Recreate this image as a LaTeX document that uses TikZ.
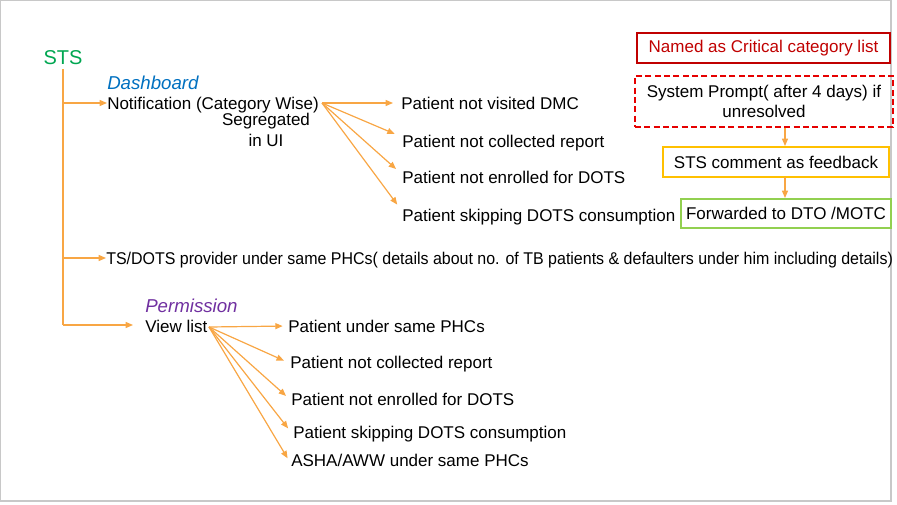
\documentclass[tikz,border=0pt]{standalone}
\usepackage{fontspec}
\usepackage{graphicx}
\setmainfont{Liberation Sans}
\usetikzlibrary{arrows.meta}
\definecolor{arr}{RGB}{248,166,68}
\definecolor{stsgreen}{RGB}{0,166,81}
\definecolor{dashblue}{RGB}{0,112,192}
\definecolor{permpurple}{RGB}{112,48,160}
\definecolor{darkred}{RGB}{192,0,0}
\definecolor{promptred}{RGB}{230,0,0}
\definecolor{fbyellow}{RGB}{255,192,0}
\definecolor{fwdgreen}{RGB}{146,208,80}
\definecolor{framegray}{RGB}{200,200,200}
\tikzset{
  body/.style={font=\fontsize{12.75}{15}\selectfont, inner sep=0pt, anchor=west, text=black, text height=9pt, text depth=0pt},
  head/.style={font=\fontsize{14}{16}\selectfont\itshape, inner sep=0pt, anchor=west, text height=10pt, text depth=0pt},
  conn/.style={draw=arr, line width=0.9pt, -{Triangle[length=5.5pt,width=4.5pt]}},
  boxed/.style={font=\fontsize{12.75}{15}\selectfont, inner sep=0pt, align=center, line width=1.5pt},
}
\begin{document}
\begin{tikzpicture}[x=0.75pt,y=-0.75pt]
\useasboundingbox (0,0) rectangle (897,504);
\draw[framegray, line width=0.8pt] (0.5,0.5) rectangle (891,501);

% STS trunk
\node[font=\fontsize{15}{17}\selectfont, text=stsgreen, inner sep=0pt, text height=10.7pt, text depth=0pt] (sts) at (63,57) {STS};
\coordinate (top) at (63,69);
\coordinate (bot) at (63,325);
\draw[draw=arr, line width=0.9pt] (top) -- (bot);
\coordinate (b1) at (63,103);
\coordinate (b2) at (63,258);

% Dashboard branch
\node[head, text=dashblue] (dash) at (107,83) {Dashboard};
\node[body] (notif) at (107,103) {Notification (Category Wise)};
\node[font=\fontsize{12.75}{15}\selectfont, inner sep=0pt, align=center] (seg) at (266,130) {Segregated\\[1pt]in UI};
\draw[conn] (b1) -- (b1 -| notif.west);
\coordinate (no) at (322,103);

\node[body] (d1) at (401,103) {Patient not visited DMC};
\node[body] (d2) at (402,141) {Patient not collected report};
\node[body] (d3) at (402,177) {Patient not enrolled for DOTS};
\node[body] (d4) at (402,215) {Patient skipping DOTS consumption};
\draw[conn, shorten >=6pt] (no) -- (d1.west);
\draw[conn, shorten >=6pt] (no) -- ([yshift=3pt]d2.west);
\draw[conn, shorten >=6pt] (no) -- ([yshift=2pt]d3.west);
\draw[conn, shorten >=6pt] (no) -- ([yshift=3pt]d4.west);

% TS/DOTS branch
\node[body] (ts) at (106,258) {\resizebox{590pt}{\height}{TS/DOTS provider under same PHCs( details about no. of TB patients \& defaulters under him including details)}};
\draw[conn] (b2) -- (b2 -| ts.west);

% Permission branch
\node[head, text=permpurple] (perm) at (145,306) {Permission};
\node[body] (view) at (145,326) {View list};
\draw[conn, shorten >=9pt] (bot) -- (bot -| view.west);
\coordinate (vo) at (209,327);

\node[body] (v1) at (288,326) {Patient under same PHCs};
\node[body] (v2) at (290,362) {Patient not collected report};
\node[body] (v3) at (291,399) {Patient not enrolled for DOTS};
\node[body] (v4) at (293,432) {Patient skipping DOTS consumption};
\node[body] (v5) at (291,460) {ASHA/AWW under same PHCs};
\draw[conn, shorten >=4pt] (vo) -- (v1.west);
\draw[conn, shorten >=5pt] (vo) -- ([yshift=-1pt]v2.west);
\draw[conn, shorten >=5pt] (vo) -- ([yshift=-1pt]v3.west);
\draw[conn, shorten >=6pt] (vo) -- ([yshift=-2pt]v4.west);
\draw[conn, shorten >=5pt] (vo) -- ([yshift=-3pt]v5.west);

% Right side boxes
\node[boxed, draw=darkred, line width=0.8pt, text=darkred, minimum width=253*0.75pt, minimum height=30*0.75pt] (crit) at (763.5,48) {Named as Critical category list};
\node[boxed, draw=promptred, dash pattern=on 4.5pt off 2.5pt, minimum width=258*0.75pt, minimum height=51*0.75pt] (prompt) at (764,101.5) {System Prompt( after 4 days) if\\[0pt]unresolved};
\node[boxed, draw=fbyellow, minimum width=226*0.75pt, minimum height=30*0.75pt] (fb) at (776,162) {STS comment as feedback};
\node[boxed, draw=fwdgreen, minimum width=210*0.75pt, minimum height=29*0.75pt] (fwd) at (786,213.5) {Forwarded to DTO /MOTC};
\coordinate (p1) at (785,127.5);
\coordinate (p2) at (785,177);
\draw[conn] (p1) -- (p1 |- fb.north);
\draw[conn] (p2) -- (p2 |- fwd.north);
\end{tikzpicture}
\end{document}
